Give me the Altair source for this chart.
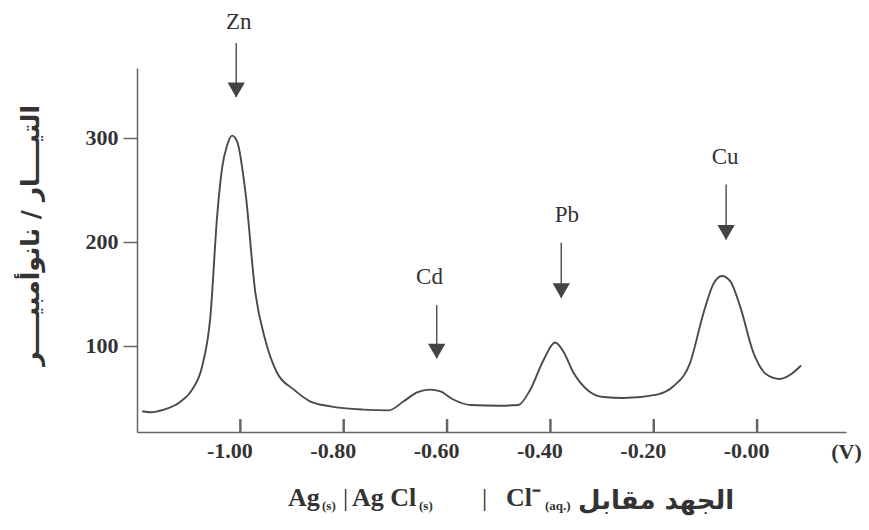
import altair as alt
import pandas as pd

# ---- data ----
potential = [-1.19, -1.174, -1.148, -1.116, -1.093, -1.074, -1.058, -1.045, -1.035, -1.026,
             -1.016, -1.006, -0.990, -0.971, -0.952, -0.929, -0.897, -0.865, -0.826, -0.762,
             -0.713, -0.684, -0.658, -0.633, -0.613, -0.587, -0.555, -0.497, -0.462, -0.439,
             -0.413, -0.391, -0.375, -0.355, -0.329, -0.297, -0.259, -0.194, -0.162, -0.130,
             -0.104, -0.085, -0.068, -0.052, -0.033, -0.007, 0.019, 0.044, 0.064, 0.085]
current = [37, 36, 38.5, 46, 58, 80, 128, 224, 272, 292,
           302, 296, 247, 151, 106, 74, 58, 46.5, 41.7, 38.5,
           37.8, 46.5, 55, 57.7, 56, 48, 43, 42.3, 43, 57.7,
           86.5, 103, 94.5, 73.7, 57.7, 50.6, 49.7, 53, 61, 83,
           131, 159, 167, 162, 138, 93, 72, 68, 72, 81]

x_ticks = [-1.0, -0.8, -0.6, -0.4, -0.2, 0.0]
y_ticks = [100, 200, 300]

metals = ["Zn", "Cd", "Pb", "Cu"]
arrow_x = [-1.008, -0.620, -0.379, -0.060]
arrow_top = [391, 139, 199, 255]
arrow_tip = [339, 88, 146, 202]
label_x = [-1.003, -0.634, -0.368, -0.062]
label_y = [411, 166, 226, 281]

y_title = "التيــــار / نانوأمبيــــر"
x_title_ar = "الجهد مقابل"

# ---- layout ----
W, H = 709, 364
X_DOMAIN = [-1.2, 0.172]
Y_DOMAIN = [17, 367]
INK = "#4a4a4a"
AXIS = "#666666"
SERIF = "Liberation Serif"
ARABIC = "DejaVu Sans"

curve = pd.DataFrame({"V": potential, "I": current})
ticks = pd.DataFrame({"V": x_ticks})
arrows = pd.DataFrame({"V": arrow_x, "top": arrow_top, "tip": arrow_tip})
labels = pd.DataFrame({"V": label_x, "I": label_y, "name": metals})

xs = alt.Scale(domain=X_DOMAIN, nice=False, zero=False)
ys = alt.Scale(domain=Y_DOMAIN, nice=False, zero=False)

line = alt.Chart(curve).mark_line(
    interpolate="monotone", color=INK, strokeWidth=1.9
).encode(
    x=alt.X("V:Q", scale=xs, axis=alt.Axis(
        values=x_ticks, ticks=False, tickSize=0, grid=False,
        labelExpr="'-' + format(abs(datum.value), '.2f')",
        labelFont=SERIF, labelFontWeight="bold", labelFontSize=22, labelColor="#333",
        labelPadding=8, labelOffset=-11,
        domainColor=AXIS, domainWidth=1.5,
        title="(V)", titleFont=SERIF, titleFontWeight="bold", titleFontSize=22,
        titleColor="#333", titleAngle=0, titleX=W, titleY=19,
        titleAlign="center", titleBaseline="middle",
    )),
    y=alt.Y("I:Q", scale=ys, axis=alt.Axis(
        values=y_ticks, grid=False, tickSize=14, tickColor=AXIS, tickWidth=1.5,
        labelFont=SERIF, labelFontWeight="bold", labelFontSize=22, labelColor="#333",
        labelPadding=5, domainColor=AXIS, domainWidth=1.5,
        title=y_title, titleFont=ARABIC, titleFontWeight="bold", titleFontSize=25,
        titleColor="#333", titleAngle=270, titleX=-107, titleY=167,
        titleAlign="center", titleBaseline="middle",
    )),
)

inner_ticks = alt.Chart(ticks).mark_rule(color=AXIS, strokeWidth=2.5).encode(
    x=alt.X("V:Q", scale=xs),
    y=alt.value(H),
    y2=alt.value(H - 13),
)

shafts = alt.Chart(arrows).mark_rule(color="#555", strokeWidth=1.5).encode(
    x=alt.X("V:Q", scale=xs),
    y=alt.Y("top:Q", scale=ys),
    y2="tip:Q",
)

heads = alt.Chart(arrows).mark_point(
    shape="triangle-down", filled=True, size=300, color="#444", opacity=1, yOffset=-7
).encode(
    x=alt.X("V:Q", scale=xs),
    y=alt.Y("tip:Q", scale=ys),
)

names = alt.Chart(labels).mark_text(
    font=SERIF, fontSize=23, color="#333", baseline="middle", align="center"
).encode(
    x=alt.X("V:Q", scale=xs),
    y=alt.Y("I:Q", scale=ys),
    text="name:N",
)


def piece(text, x, y, size, font=SERIF, weight="bold"):
    return alt.Chart(pd.DataFrame({"t": [text]})).mark_text(
        font=font, fontSize=size, fontWeight=weight, color="#333",
        align="left", baseline="alphabetic",
    ).encode(x=alt.value(x), y=alt.value(y), text="t:N")


title_pieces = [
    piece("Ag", 151, 438, 26),
    piece("(s)", 185, 442, 13),
    piece("|", 206, 438, 26, weight="normal"),
    piece("Ag Cl", 215, 438, 26),
    piece("(s)", 282, 442, 13),
    piece("|", 345, 438, 26, weight="normal"),
    piece("Cl⁻", 369, 438, 26),
    piece("(aq.)", 408, 442, 13),
    piece(x_title_ar, 441, 441, 26, font=ARABIC),
]

chart = alt.layer(line, inner_ticks, shafts, heads, names, *title_pieces).properties(
    width=W, height=H,
    autosize=alt.AutoSizeParams(type="none"),
    padding={"left": 137, "top": 68, "right": 23, "bottom": 98},
).configure_view(strokeWidth=0)

chart.save("out.html", embed_options={"renderer": "svg", "actions": False})
